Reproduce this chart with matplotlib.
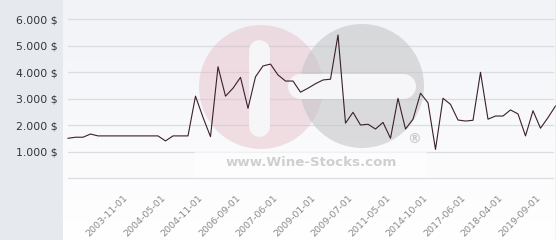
import numpy as np
import matplotlib
matplotlib.use("Agg")
import matplotlib.pyplot as plt
from matplotlib.transforms import Affine2D
from matplotlib.patches import Circle, Rectangle

# prices (USD), one per category
prices = [1510, 1550, 1550, 1670, 1600, 1600, 1600, 1600, 1600, 1600,
          1600, 1600, 1600, 1410, 1600, 1600, 1600, 3100, 2300, 1570,
          4210, 3100, 3400, 3810, 2640, 3830, 4240, 4310, 3900, 3670,
          3670, 3250, 3400, 3570, 3710, 3740, 5410, 2080, 2490, 2010,
          2040, 1860, 2110, 1510, 3020, 1860, 2230, 3210, 2850, 1090,
          3020, 2790, 2200, 2160, 2190, 4000, 2230, 2350, 2350, 2580,
          2430, 1600, 2550, 1890, 2290, 2730]
tick_labels = ["2003-11-01", "2004-05-01", "2004-11-01", "2006-09-01",
               "2007-06-01", "2009-01-01", "2009-07-01", "2011-05-01",
               "2014-10-01", "2017-06-01", "2018-04-01", "2019-09-01"]
tick_first = 7
tick_step = 5
y_ticks = [1000, 2000, 3000, 4000, 5000, 6000]

W, H = 560, 240
fig = plt.figure(figsize=(W / 100, H / 100), dpi=100)
fig.patch.set_facecolor("white")
# pixel coords, origin top-left
pix = Affine2D().scale(1 / 100, -1 / 100).translate(0, H / 100) + fig.dpi_scale_trans

# grey left panel
side = fig.add_axes([0, 0, 63 / W, 1], zorder=-1)
side.set_facecolor("#e6eaee")
side.set_xticks([])
side.set_yticks([])
for s in side.spines.values():
    s.set_visible(False)

ax = fig.add_axes([63 / W, 0, (556 - 63) / W, 1])
x = np.arange(len(prices))
ax.set_xlim(-5 / 7.5, (556 - 68) / 7.5)
ax.set_ylim(-(H - 178.3) / 26.5 * 1000, 178.3 / 26.5 * 1000)

# background gradient
grad = np.linspace(0, 1, 256).reshape(-1, 1)
top = np.array([0.949, 0.953, 0.969])
bot = np.array([1.0, 1.0, 1.0])
img = top + (bot - top) * grad[..., None]
ax.imshow(img, extent=[0, 1, 0, 1], transform=ax.transAxes, aspect="auto",
          origin="upper", zorder=0)

for s in ax.spines.values():
    s.set_visible(False)
ax.add_line(plt.Line2D([1, 1], [0, 1], transform=ax.transAxes, color="#cfd2d6",
                       lw=1.0, zorder=5))

# gridlines
gx0 = (68 - 63) / 493
gx1 = (553 - 63) / 493
for v in [0] + y_ticks:
    ax.axhline(v, xmin=gx0, xmax=gx1, color="#dcdde1", lw=0.9, zorder=1)

# watermark logo
ax.add_patch(Circle((261, 87), 62, transform=pix, facecolor="#e2b7c1",
                    edgecolor="none", alpha=0.42, zorder=2))
ax.add_patch(Circle((362, 86), 62, transform=pix, facecolor="#c2c2c4",
                    edgecolor="none", alpha=0.55, zorder=2))
ax.plot([259, 259], [50, 126], transform=pix, color="#f6f6f8", lw=15,
        solid_capstyle="round", zorder=3)
ax.plot([300, 403], [86, 86], transform=pix, color="#f6f6f8", lw=18,
        solid_capstyle="round", zorder=3)
ax.add_patch(Rectangle((195, 152), 232, 25, transform=pix, facecolor="white",
                       edgecolor="none", alpha=0.6, zorder=3))
ax.text(311, 162, "www.Wine-Stocks.com", transform=pix, ha="center", va="center",
        fontsize=9.6, fontweight="bold", color="#cfcfcf", zorder=3)
ax.text(414, 139, "®", transform=pix, ha="center", va="center",
        fontsize=10, fontweight="bold", color="#c8c8c8", zorder=3)

ax.plot(x, prices, color="#3b1f2b", lw=0.8, zorder=4)

# y labels
ax.set_xticks([])
ax.set_yticks(y_ticks)
ax.set_yticklabels([f"{v:,}".replace(",", ".") + " $" for v in y_ticks],
                   fontsize=7.8, color="#333333")
ax.tick_params(axis="y", length=0, pad=4)

# x labels
for k, lab in enumerate(tick_labels):
    ax.text(tick_first + k * tick_step + 0.4, 1 - 193 / H, lab,
            transform=ax.get_xaxis_transform(), rotation=45, ha="right", va="top",
            rotation_mode="anchor", fontsize=6.8, color="#8a8a8a")

fig.savefig("out.png", dpi=100)
